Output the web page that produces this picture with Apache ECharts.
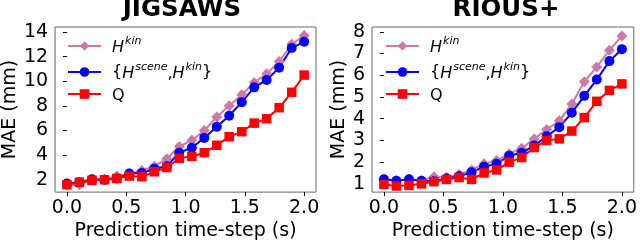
<!DOCTYPE html>
<html>
<head>
<meta charset="utf-8">
<style>html,body{margin:0;padding:0;background:#fff;}#c{width:640px;height:246px;}</style>
<script src="https://cdn.jsdelivr.net/npm/echarts@6/dist/echarts.min.js"></script>
</head>
<body>
<div id="c"></div>
<script>
// Prediction time-steps (s)
const timeSteps = [0, 0.105, 0.211, 0.316, 0.421, 0.526, 0.632, 0.737, 0.842, 0.947, 1.053, 1.158, 1.263, 1.368, 1.474, 1.579, 1.684, 1.789, 1.895, 2.0];
const xTicks = [0, 0.5, 1.0, 1.5, 2.0];

// JIGSAWS
const jigKin   = [1.55, 1.6, 2.0, 2.05, 2.3, 2.5, 2.75, 3.1, 3.7, 4.7, 5.2, 6.0, 7.1, 8.0, 8.9, 9.9, 10.6, 11.6, 13.0, 13.7];
const jigScene = [1.7, 1.8, 2.05, 2.0, 2.1, 2.5, 2.55, 2.9, 3.1, 4.2, 4.6, 5.4, 6.3, 7.2, 8.3, 9.5, 10.1, 11.1, 12.7, 13.2];
const jigQ     = [1.6, 1.8, 1.95, 2.0, 2.1, 2.3, 2.25, 2.65, 3.0, 3.75, 3.9, 4.2, 4.8, 5.5, 5.9, 6.6, 6.95, 7.85, 9.1, 10.5];
const jigYTicks = [2, 4, 6, 8, 10, 12, 14];

// RIOUS+
const rioKin   = [1.2, 1.15, 1.2, 1.15, 1.33, 1.3, 1.43, 1.64, 1.93, 2.07, 2.39, 2.64, 3.07, 3.5, 3.9, 4.68, 5.7, 6.38, 7.15, 7.8];
const rioScene = [1.21, 1.14, 1.21, 1.14, 1.12, 1.25, 1.35, 1.53, 1.79, 1.93, 2.29, 2.43, 2.76, 3.19, 3.61, 4.27, 5.05, 5.8, 6.65, 7.2];
const rioQ     = [0.97, 0.9, 0.93, 1.0, 1.1, 1.2, 1.29, 1.2, 1.5, 1.64, 2.0, 2.21, 2.67, 3.0, 3.07, 3.43, 4.05, 4.8, 5.3, 5.6];
const rioYTicks = [1, 2, 3, 4, 5, 6, 7, 8];

const titles = ['JIGSAWS', 'RIOUS+'];
const seriesNames = ['kin', 'scene', 'q'];
const legendLabels = {
  kin: '{i|H}{s|kin}',
  scene: '{{i|H}{s|scene}{n|,}{i|H}{s|kin}}',
  q: '{n|Q}'
};

const FONT = 'DejaVu Sans';
const pts = arr => arr.map((v, i) => [timeSteps[i], v]);

const styles = {
  kin:   {color: '#CC79A7', symbol: 'diamond', size: 11},
  scene: {color: '#0000FF', symbol: 'circle', size: 10},
  q:     {color: '#FF0000', symbol: 'rect', size: 9.5}
};

function mkSeries(name, data, idx) {
  const s = styles[name];
  return {
    name: name, type: 'line', xAxisIndex: idx, yAxisIndex: idx,
    data: pts(data), symbol: s.symbol, symbolSize: s.size, showSymbol: true,
    lineStyle: {color: s.color, width: 2}, itemStyle: {color: s.color},
    animation: false, silent: true
  };
}

const gridBox = {show: true, borderColor: '#666', borderWidth: 1, backgroundColor: 'transparent'};

function xAxis(idx) {
  return {
    type: 'value', gridIndex: idx, min: -0.1, max: 2.1,
    name: 'Prediction time-step (s)', nameLocation: 'middle', nameGap: 24,
    nameTextStyle: {fontFamily: FONT, fontSize: 19, color: '#000'},
    axisLine: {show: false}, splitLine: {show: false},
    axisTick: {show: true, length: 4, lineStyle: {color: '#000'}, customValues: xTicks},
    axisLabel: {fontFamily: FONT, fontSize: 19, color: '#000', margin: 6, customValues: xTicks,
      formatter: v => v.toFixed(1)}
  };
}
function yAxis(idx, min, max, ticks, gap) {
  return {
    type: 'value', gridIndex: idx, min: min, max: max,
    name: 'MAE (mm)', nameLocation: 'middle', nameGap: gap,
    nameTextStyle: {fontFamily: FONT, fontSize: 19, color: '#000'},
    axisLine: {show: false}, splitLine: {show: false},
    axisTick: {show: true, length: 4, lineStyle: {color: '#000'}, customValues: ticks},
    axisLabel: {fontFamily: FONT, fontSize: 19, color: '#000', margin: 7, customValues: ticks}
  };
}

const rich = {
  i: {fontFamily: FONT, fontSize: 16, fontStyle: 'italic', color: '#000', verticalAlign: 'bottom', lineHeight: 20},
  s: {fontFamily: FONT, fontSize: 11, fontStyle: 'italic', color: '#000', verticalAlign: 'top', lineHeight: 20, padding: [0, 0, 0, 1]},
  n: {fontFamily: FONT, fontSize: 16, color: '#000', verticalAlign: 'bottom', lineHeight: 20}
};

function legend(idx, left) {
  return {
    orient: 'vertical', left: left, top: 31, itemWidth: 33, itemHeight: 12, itemGap: 6,
    selectedMode: false, data: seriesNames,
    formatter: n => legendLabels[n],
    textStyle: {fontFamily: FONT, fontSize: 16, color: '#000', rich: rich, padding: [0, 0, 0, 6]}
  };
}

const titleStyle = {fontFamily: FONT, fontSize: 24.5, fontWeight: 'bold', color: '#000'};
const chart = echarts.init(document.getElementById('c'), null, {renderer: 'canvas'});
chart.setOption({
  backgroundColor: '#fff',
  animation: false,
  title: [
    {text: titles[0], left: 182, top: -3, padding: 0, textAlign: 'center', textStyle: titleStyle},
    {text: titles[1], left: 506, top: -3, padding: 0, textAlign: 'center', textStyle: titleStyle}
  ],
  legend: [legend(0, 62), legend(1, 380)],
  grid: [
    Object.assign({left: 53, right: 324, top: 27, bottom: 50}, gridBox),
    Object.assign({left: 372, right: 5, top: 27, bottom: 50}, gridBox)
  ],
  xAxis: [xAxis(0), xAxis(1)],
  yAxis: [yAxis(0, 1.0, 14.4, jigYTicks, 34), yAxis(1, 0.62, 8.22, rioYTicks, 23)],
  series: [
    mkSeries('kin', jigKin, 0), mkSeries('scene', jigScene, 0), mkSeries('q', jigQ, 0),
    mkSeries('kin', rioKin, 1), mkSeries('scene', rioScene, 1), mkSeries('q', rioQ, 1)
  ]
});
</script>
</body>
</html>
